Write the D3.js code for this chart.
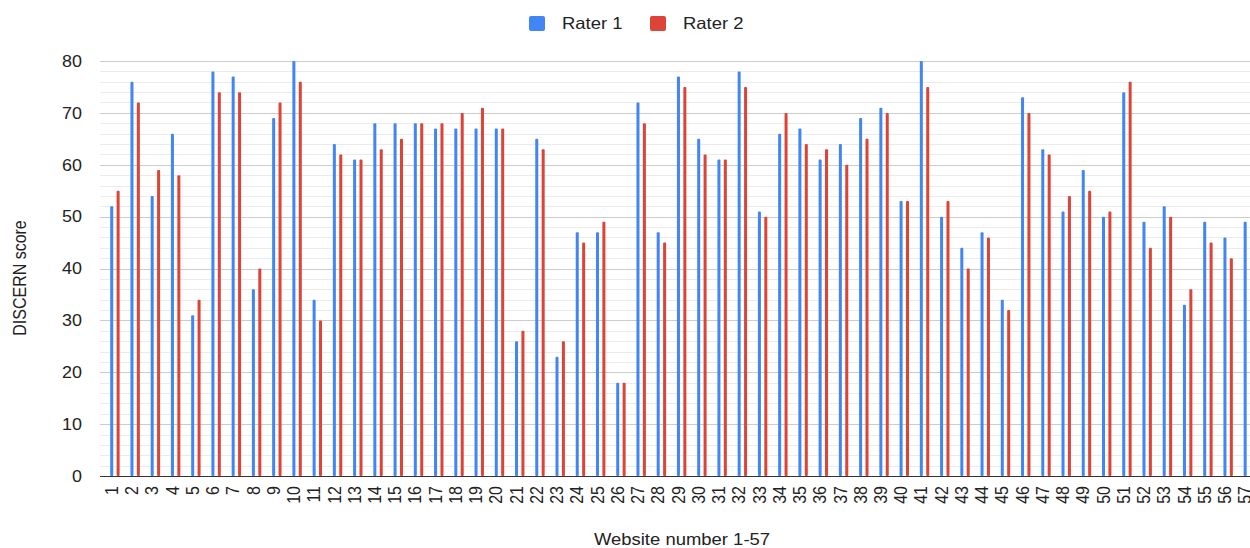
<!DOCTYPE html>
<html>
<head>
<meta charset="utf-8">
<script src="https://cdn.jsdelivr.net/npm/d3@7"></script>
<style>
	html, body { margin: 0; padding: 0; background: #fff; overflow: hidden; }
	svg { display: block; font-family: 'Liberation Sans', Arial, sans-serif; }
</style>
</head>
<body>
<svg id="chart"></svg>
<script>
const websites = d3.range( 1, 58 ).map( String );
const seriesNames = [ 'Rater 1', 'Rater 2' ];
const rater1 = [
	52, 76, 54, 66, 31, 78, 77, 36, 69, 80,
	34, 64, 61, 68, 68, 68, 67, 67, 67, 67,
	26, 65, 23, 47, 47, 18, 72, 47, 77, 65,
	61, 78, 51, 66, 67, 61, 64, 69, 71, 53,
	80, 50, 44, 47, 34, 73, 63, 51, 59, 50,
	74, 49, 52, 33, 49, 46, 49,
];
const rater2 = [
	55, 72, 59, 58, 34, 74, 74, 40, 72, 76,
	30, 62, 61, 63, 65, 68, 68, 70, 71, 67,
	28, 63, 26, 45, 49, 18, 68, 45, 75, 62,
	61, 75, 50, 70, 64, 63, 60, 65, 70, 53,
	75, 53, 40, 46, 32, 70, 62, 54, 55, 51,
	76, 44, 50, 36, 45, 42, 45,
];
const yTicks = [ 0, 10, 20, 30, 40, 50, 60, 70, 80 ];
const colors = [ '#4285f4', '#db4437' ];

// The source picture is a little wider than tall, so text is stretched sideways
const stretch = 'scale(1.12,1)';

function drawChart( selector ) {
	const width = 1250;
	const height = 548;
	const plot = { left: 104.8, right: 1258.5, top: 61, bottom: 476 };

	const svg = d3.select( selector )
		.attr( 'width', width )
		.attr( 'height', height );

	const x0 = d3.scaleBand()
		.domain( websites )
		.range( [ plot.left, plot.right ] )
		.paddingInner( 0.535 )
		.paddingOuter( 0.2675 );

	const x1 = d3.scaleBand()
		.domain( seriesNames )
		.range( [ 0, x0.bandwidth() ] )
		.paddingInner( 0.53 );

	const y = d3.scaleLinear()
		.domain( [ 0, 80 ] )
		.range( [ plot.bottom, plot.top ] );

	// Minor gridlines every 2
	svg.append( 'g' )
		.selectAll( 'line' )
		.data( d3.range( 0, 81, 2 ).filter( ( v ) => v % 10 !== 0 ) )
		.enter()
		.append( 'line' )
		.attr( 'x1', 100 )
		.attr( 'x2', width )
		.attr( 'y1', ( d ) => Math.round( y( d ) ) + 0.5 )
		.attr( 'y2', ( d ) => Math.round( y( d ) ) + 0.5 )
		.attr( 'stroke', '#ebebeb' )
		.attr( 'stroke-width', 1 );

	// Major gridlines
	svg.append( 'g' )
		.selectAll( 'line' )
		.data( yTicks.filter( ( v ) => v > 0 ) )
		.enter()
		.append( 'line' )
		.attr( 'x1', 100 )
		.attr( 'x2', width )
		.attr( 'y1', ( d ) => Math.round( y( d ) ) + 0.5 )
		.attr( 'y2', ( d ) => Math.round( y( d ) ) + 0.5 )
		.attr( 'stroke', '#cccccc' )
		.attr( 'stroke-width', 1 );

	// Y tick labels
	svg.append( 'g' )
		.selectAll( 'text' )
		.data( yTicks )
		.enter()
		.append( 'text' )
		.attr( 'transform', ( d ) => `translate(82,${ y( d ) }) ${ stretch }` )
		.attr( 'dy', '0.36em' )
		.attr( 'text-anchor', 'end' )
		.attr( 'font-size', 16 )
		.attr( 'fill', '#222' )
		.text( ( d ) => d );

	// Bars
	const series = [ rater1, rater2 ];
	seriesNames.forEach( ( name, s ) => {
		svg.append( 'g' )
			.selectAll( 'rect' )
			.data( series[ s ] )
			.enter()
			.append( 'rect' )
			.attr( 'x', ( d, i ) => x0( websites[ i ] ) + x1( name ) )
			.attr( 'y', ( d ) => y( d ) )
			.attr( 'width', x1.bandwidth() )
			.attr( 'height', ( d ) => y( 0 ) - y( d ) )
			.attr( 'rx', 1 )
			.attr( 'fill', colors[ s ] );
	} );

	// Baseline
	svg.append( 'line' )
		.attr( 'x1', 100 )
		.attr( 'x2', width )
		.attr( 'y1', y( 0 ) + 0.5 )
		.attr( 'y2', y( 0 ) + 0.5 )
		.attr( 'stroke', '#333' )
		.attr( 'stroke-width', 1.2 );

	// X tick labels, rotated
	svg.append( 'g' )
		.selectAll( 'text' )
		.data( websites )
		.enter()
		.append( 'text' )
		.attr( 'transform', ( d ) => `translate(${ x0( d ) + x0.bandwidth() / 2 - 3.5 },486) ${ stretch } rotate(-90)` )
		.attr( 'dy', '0.36em' )
		.attr( 'text-anchor', 'end' )
		.attr( 'font-size', 16 )
		.attr( 'fill', '#222' )
		.text( ( d ) => d );

	// Axis titles
	svg.append( 'text' )
		.attr( 'transform', `translate(682,545) ${ stretch }` )
		.attr( 'text-anchor', 'middle' )
		.attr( 'font-size', 16.5 )
		.attr( 'fill', '#222' )
		.text( 'Website number 1-57' );

	svg.append( 'text' )
		.attr( 'transform', `translate(26,278) ${ stretch } rotate(-90)` )
		.attr( 'text-anchor', 'middle' )
		.attr( 'font-size', 16 )
		.attr( 'fill', '#222' )
		.text( 'DISCERN score' );

	// Legend
	const legendItems = [ { x: 529, textX: 562 }, { x: 650, textX: 683 } ];
	const legend = svg.append( 'g' )
		.selectAll( 'g' )
		.data( seriesNames )
		.enter()
		.append( 'g' );

	legend.append( 'rect' )
		.attr( 'x', ( d, i ) => legendItems[ i ].x )
		.attr( 'y', 16 )
		.attr( 'width', 16 )
		.attr( 'height', 15 )
		.attr( 'rx', 2 )
		.attr( 'fill', ( d, i ) => colors[ i ] );

	legend.append( 'text' )
		.attr( 'transform', ( d, i ) => `translate(${ legendItems[ i ].textX },23.5) ${ stretch }` )
		.attr( 'dy', '0.36em' )
		.attr( 'font-size', 16.5 )
		.attr( 'fill', '#222' )
		.text( ( d ) => d );
}

drawChart( '#chart' );
</script>
</body>
</html>
